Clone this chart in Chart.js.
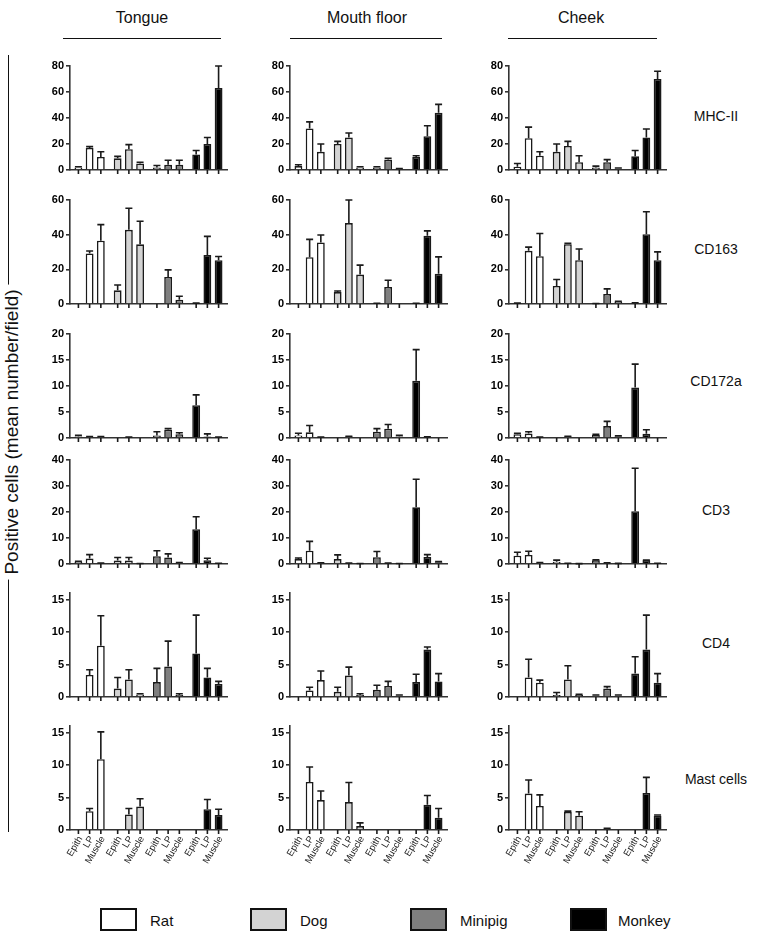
<!DOCTYPE html>
<html><head><meta charset="utf-8">
<script src="https://cdn.jsdelivr.net/npm/chart.js@4"></script>
<style>
body{margin:0;width:769px;height:939px;position:relative;background:#fff;font-family:"Liberation Sans",Arial,sans-serif;overflow:hidden;color:#111}
canvas{position:absolute}
.hdr{position:absolute;font-size:16px;transform:translate(-50%,-50%);top:18px;white-space:nowrap}
.hline{position:absolute;top:38px;height:0;border-top:1px solid #111}
.rowlab{position:absolute;font-size:14px;transform:translate(-50%,-50%);left:716px;white-space:nowrap}
.lbox{position:absolute;top:908px;width:33px;height:19px;border:2px solid #111}
.ltxt{position:absolute;top:920px;font-size:15px;transform:translateY(-50%)}
</style></head><body>
<div style="position:absolute;left:8px;top:55px;width:0;height:777px;border-left:1px solid #111"></div>
<div style="position:absolute;left:12px;top:432px;transform:translate(-50%,-50%) rotate(-90deg);font-size:19px;background:#fff;padding:0 5px;white-space:nowrap">Positive cells (mean number/field)</div>
<script>
const species = ["Rat","Dog","Minipig","Monkey"];
const tissues = ["Epith","LP","Muscle"];
const sites = ["Tongue","Mouth floor","Cheek"];
const markers = ["MHC-II","CD163","CD172a","CD3","CD4","Mast cells"];
const yMax = [80,60,20,40,16,16];
const yStep = [20,20,5,10,5,5];

// 12 values per panel: Rat(Epith,LP,Muscle), Dog(...), Minipig(...), Monkey(...)
const mhcTongue    = [2,17,10, 9,16,5, 2,4,4, 12,20,63];
const mhcTongueErr = [0.5,1,4, 1.5,3.5,1, 1.5,3.5,3.5, 3,5,17];
const mhcMouth     = [3,32,14, 20,25,2, 2,8,1, 10,26,44];
const mhcMouthErr  = [1,5,6, 2,3.5,0.5, 0.5,1,0.2, 1,8,6.5];
const mhcCheek     = [2.5,24.5,11, 14,18.5,6, 2,6,1, 10.5,25,70];
const mhcCheekErr  = [2.5,8.5,3, 6,3.5,5, 1,2,0.5, 4.5,6.5,6];

const cd163Tongue    = [0,29.2,36.5, 7.9,42.8,34.4, 0,15.6,2.5, 0.3,28.2,25.3];
const cd163TongueErr = [0,1.4,9.3, 3.1,12.4,13.3, 0,4.1,2, 0.2,10.8,2.1];
const cd163Mouth     = [0,27,35.5, 6.9,46.7,17, 0.3,9.8,0, 0.3,39.4,17.4];
const cd163MouthErr  = [0,10.3,4.3, 0.6,13.3,5.4, 0.1,3.9,0, 0.1,2.8,9.8];
const cd163Cheek     = [0.3,30.7,27.6, 10.4,34.5,25.3, 0.2,5.8,1.3, 0.5,40.3,25.3];
const cd163CheekErr  = [0.2,2.1,13.1, 3.7,0.5,6.4, 0.1,2.9,0.3, 0.2,12.9,4.8];

const cd172Tongue    = [0.3,0.2,0.2, 0,0.1,0, 0.5,1.6,0.7, 6.3,0.3,0.1];
const cd172TongueErr = [0.2,0.1,0.1, 0,0.1,0, 0.7,0.2,0.3, 2,0.5,0.1];
const cd172Mouth     = [0.5,1.1,0.1, 0,0.3,0, 1.2,1.8,0.3, 11,0.2,0];
const cd172MouthErr  = [0.4,1.3,0.1, 0,0.05,0, 0.6,0.8,0.2, 6,0.05,0];
const cd172Cheek     = [0.7,0.85,0.1, 0,0.3,0, 0.6,2.3,0.3, 9.7,0.8,0];
const cd172CheekErr  = [0.2,0.35,0.1, 0,0.05,0, 0.1,0.9,0.1, 4.5,0.8,0];

const cd3Tongue    = [0.8,2.1,0.3, 1.3,1.3,0.1, 3,2.5,0.4, 13.4,1.4,0.2];
const cd3TongueErr = [0.2,1.5,0.1, 1.2,1.2,0.1, 2.1,1.4,0.2, 4.8,0.8,0.1];
const cd3Mouth     = [1.9,5.1,0.4, 1.9,0.3,0.1, 2.6,0.3,0.1, 21.8,2.7,0.7];
const cd3MouthErr  = [0.4,3.6,0.1, 1.6,0.1,0.1, 2.2,0.1,0.1, 10.8,0.9,0.2];
const cd3Cheek     = [3.2,3.5,0.5, 0.9,0.2,0.1, 1.4,0.4,0.2, 20.3,1.4,0.2];
const cd3CheekErr  = [1.3,1.4,0.1, 0.6,0.1,0.05, 0.2,0.1,0.05, 16.5,0.1,0.1];

const cd4Tongue    = [0,3.4,7.9, 1.3,2.7,0.4, 2.3,4.7,0.3, 6.7,3.0,2.0];
const cd4TongueErr = [0,0.8,4.6, 1.7,1.5,0.1, 2.1,3.9,0.2, 5.9,1.4,0.4];
const cd4Mouth     = [0,1.0,2.6, 0.8,3.3,0.3, 1.1,1.7,0.2, 2.3,7.3,2.4];
const cd4MouthErr  = [0,0.5,1.4, 0.7,1.3,0.2, 0.7,0.7,0.1, 1.2,0.4,1.2];
const cd4Cheek     = [0,3.0,2.2, 0.3,2.7,0.3, 0.2,1.3,0.2, 3.6,7.3,2.2];
const cd4CheekErr  = [0,2.8,0.4, 0.4,2.1,0.1, 0.1,0.3,0.1, 2.6,5.3,1.4];

const mastTongue    = [0,2.9,10.9, 0,2.4,3.6, 0,0,0, 0,3.2,2.3];
const mastTongueErr = [0,0.4,4.2, 0,0.9,1.2, 0,0,0, 0,1.5,0.9];
const mastMouth     = [0,7.4,4.6, 0,4.3,0.6, 0,0,0, 0,3.9,1.9];
const mastMouthErr  = [0,2.3,1.4, 0,3.0,0.5, 0,0,0, 0,1.4,1.4];
const mastCheek     = [0,5.6,3.7, 0,2.8,2.2, 0,0.2,0, 0,5.7,2.2];
const mastCheekErr  = [0,2.1,1.7, 0,0.1,0.6, 0,0.05,0, 0,2.4,0.1];

const panelVals = [
  [mhcTongue, mhcMouth, mhcCheek],
  [cd163Tongue, cd163Mouth, cd163Cheek],
  [cd172Tongue, cd172Mouth, cd172Cheek],
  [cd3Tongue, cd3Mouth, cd3Cheek],
  [cd4Tongue, cd4Mouth, cd4Cheek],
  [mastTongue, mastMouth, mastCheek]
];
const panelErrs = [
  [mhcTongueErr, mhcMouthErr, mhcCheekErr],
  [cd163TongueErr, cd163MouthErr, cd163CheekErr],
  [cd172TongueErr, cd172MouthErr, cd172CheekErr],
  [cd3TongueErr, cd3MouthErr, cd3CheekErr],
  [cd4TongueErr, cd4MouthErr, cd4CheekErr],
  [mastTongueErr, mastMouthErr, mastCheekErr]
];

const FONT = '"Liberation Sans", Arial, sans-serif';
const fills = ["#ffffff","#d3d3d3","#7f7f7f","#000000"];
const colX = [70, 290, 509];
const rowTop = [66, 200, 334, 460, 593, 726];
const plotW = 157, plotH = 104, yW = 30, padT = 10, padR = 14, padB = 48;
const hdrX = [142, 367, 581];
const hlines = [[63,221],[290,442],[508,657]];
const rowLabY = [116, 249, 381, 510, 643, 779];

sites.forEach((s,i)=>{
  const d=document.createElement('div'); d.className='hdr'; d.style.left=hdrX[i]+'px'; d.textContent=s; document.body.appendChild(d);
  const l=document.createElement('div'); l.className='hline'; l.style.left=hlines[i][0]+'px'; l.style.width=(hlines[i][1]-hlines[i][0])+'px'; document.body.appendChild(l);
});
markers.forEach((m,i)=>{
  const d=document.createElement('div'); d.className='rowlab'; d.style.top=rowLabY[i]+'px'; d.textContent=m; document.body.appendChild(d);
});
const legBoxX = [100, 250, 410, 570];
const legTxtX = [150, 300, 460, 618];
species.forEach((s,i)=>{
  const b=document.createElement('div'); b.className='lbox'; b.style.left=legBoxX[i]+'px'; b.style.background=fills[i]; document.body.appendChild(b);
  const t=document.createElement('div'); t.className='ltxt'; t.style.left=legTxtX[i]+'px'; t.textContent=s; document.body.appendChild(t);
});

function errPlugin(showLabels){
  return {
    id:'err',
    afterDatasetsDraw(chart){
      const ctx=chart.ctx, ys=chart.scales.y, bottom=chart.chartArea.bottom;
      ctx.save();
      ctx.strokeStyle='#1a1a1a'; ctx.lineWidth=1.6;
      chart.data.datasets.forEach((ds,di)=>{
        const meta=chart.getDatasetMeta(di);
        meta.data.forEach((bar,i)=>{
          const e=ds.errs[i]; const v=ds.data[i];
          if(e>0){
            const y0=ys.getPixelForValue(v), y1=ys.getPixelForValue(v+e);
            ctx.beginPath(); ctx.moveTo(bar.x,y0); ctx.lineTo(bar.x,y1);
            ctx.moveTo(bar.x-3.5,y1); ctx.lineTo(bar.x+3.5,y1); ctx.stroke();
          }
          ctx.beginPath(); ctx.moveTo(bar.x,bottom); ctx.lineTo(bar.x,bottom+4); ctx.stroke();
          if(showLabels){
            ctx.save();
            ctx.fillStyle='#1a1a1a'; ctx.font='9.5px '+FONT;
            ctx.translate(bar.x+2, bottom+7);
            ctx.rotate(-Math.PI/3);
            ctx.textAlign='right'; ctx.textBaseline='middle';
            ctx.fillText(tissues[di],0,0);
            ctx.restore();
          }
        });
      });
      ctx.restore();
    }
  };
}

function makePanel(r,c){
  const vals=panelVals[r][c], errs=panelErrs[r][c];
  const W=yW+plotW+padR, H=padT+plotH+padB;
  const cv=document.createElement('canvas');
  cv.width=W; cv.height=H;
  cv.style.left=(colX[c]-yW)+'px'; cv.style.top=(rowTop[r]-padT)+'px';
  cv.style.width=W+'px'; cv.style.height=H+'px';
  document.body.appendChild(cv);
  const datasets=tissues.map((t,ti)=>({
    label:t,
    data:species.map((s,si)=>vals[si*3+ti]),
    errs:species.map((s,si)=>errs[si*3+ti]),
    backgroundColor:fills,
    borderColor:'#1a1a1a', borderWidth:1.6,
    categoryPercentage:0.857, barPercentage:0.7
  }));
  new Chart(cv,{
    type:'bar',
    data:{labels:species,datasets},
    options:{
      responsive:false, animation:false, devicePixelRatio:1,
      layout:{padding:{left:0,top:padT,right:padR,bottom:padB}},
      plugins:{legend:{display:false},tooltip:{enabled:false}},
      scales:{
        x:{grid:{display:false},ticks:{display:false},border:{display:true,color:'#333',width:1.6},
           afterFit(s){s.height=0;}},
        y:{min:0,max:yMax[r],
           ticks:{stepSize:yStep[r],includeBounds:false,color:'#000',padding:2,font:{family:FONT,size:11,weight:'bold'}},
           grid:{drawOnChartArea:false,drawTicks:true,tickLength:4,color:'#333',lineWidth:1.6},
           border:{display:true,color:'#333',width:1.6},
           afterFit(s){s.width=yW;}}
      }
    },
    plugins:[errPlugin(r===5)]
  });
}
for(let r=0;r<6;r++) for(let c=0;c<3;c++) makePanel(r,c);
</script>
</body></html>
